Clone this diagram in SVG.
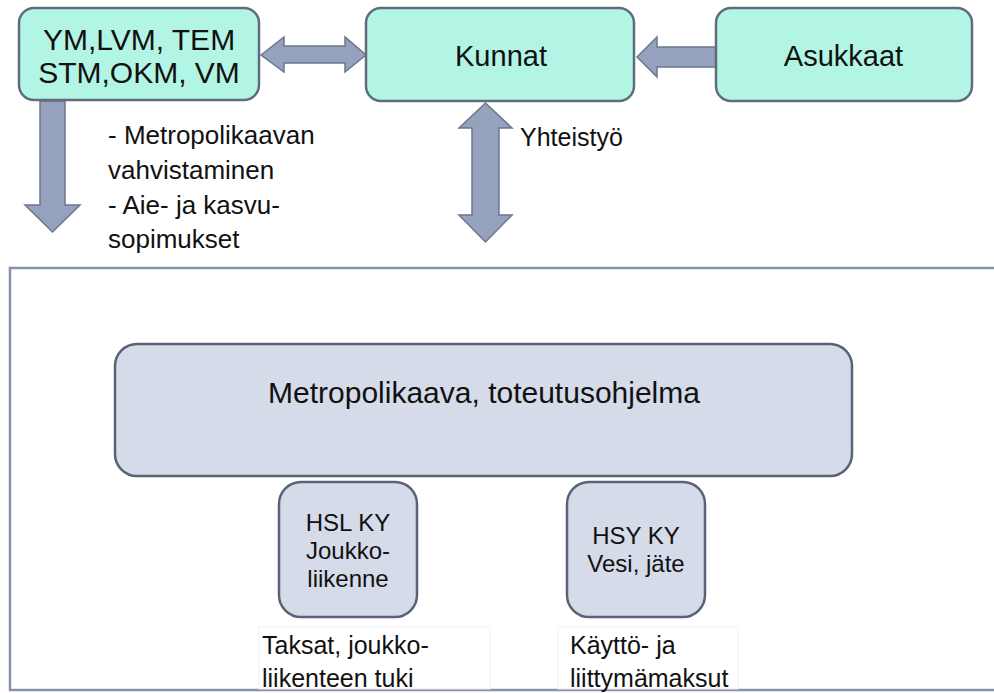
<svg xmlns="http://www.w3.org/2000/svg" width="994" height="693" viewBox="0 0 994 693">
<style>
text{font-family:"Liberation Sans",Arial,sans-serif;fill:#111}
.mint{fill:#b3f5e5;stroke:#5f6c7c;stroke-width:2.5}
.lav{fill:#d5dbe8;stroke:#586377;stroke-width:2.5}
.arr{fill:#96a2bd;stroke:#6b778c;stroke-width:1.5;stroke-linejoin:miter}
.frame{fill:#fff;stroke:#8592aa;stroke-width:2.5}
.tbox{fill:#fff;stroke:#efefef;stroke-width:1}
</style>
<rect width="994" height="693" fill="#fff"/>
<rect class="frame" x="10" y="268" width="1000" height="422"/>
<g id="connectors">
<path class="arr" d="M261,55 L284,37 L284,46 L345,46 L345,37 L366,55 L345,72 L345,63 L284,63 L284,72 Z"/>
<path class="arr" d="M637,57 L657,37 L657,47 L716,47 L716,67 L657,67 L657,77 Z"/>
<path class="arr" d="M40,101 L65,101 L65,205 L80,205 L52.5,232 L25,205 L40,205 Z"/>
<path class="arr" d="M485.5,103 L512,128 L499,128 L499,215 L512,215 L485.5,242 L459,215 L472,215 L472,128 L459,128 Z"/>
</g>
<g id="ministries">
<rect class="mint" x="19" y="8" width="240" height="92" rx="15"/>
<text x="139" y="50" font-size="30" text-anchor="middle">YM,LVM, TEM</text>
<text x="139" y="83" font-size="30" text-anchor="middle">STM,OKM, VM</text>
</g>
<g id="kunnat">
<rect class="mint" x="366" y="8" width="268" height="93" rx="15"/>
<text x="501" y="66" font-size="29" text-anchor="middle">Kunnat</text>
</g>
<g id="asukkaat">
<rect class="mint" x="716" y="8" width="256" height="93" rx="15"/>
<text x="843.5" y="66" font-size="29" text-anchor="middle">Asukkaat</text>
</g>
<g id="label-ministries">
<text x="108" y="144" font-size="26">- Metropolikaavan</text>
<text x="108" y="179" font-size="26">vahvistaminen</text>
<text x="108" y="214" font-size="26">- Aie- ja kasvu-</text>
<text x="108" y="248" font-size="26">sopimukset</text>
</g>
<g id="label-yhteistyo">
<text x="520" y="146" font-size="25">Yhteistyö</text>
</g>
<g id="metropolikaava">
<rect class="lav" x="115" y="344" width="737" height="132" rx="22"/>
<text x="484" y="403" font-size="30" text-anchor="middle">Metropolikaava, toteutusohjelma</text>
</g>
<g id="hsl">
<rect class="lav" x="279" y="482" width="138" height="135" rx="22"/>
<text x="348" y="531" font-size="24" text-anchor="middle">HSL KY</text>
<text x="348" y="559" font-size="24" text-anchor="middle">Joukko-</text>
<text x="348" y="587" font-size="24" text-anchor="middle">liikenne</text>
</g>
<g id="hsy">
<rect class="lav" x="567" y="482" width="138" height="135" rx="22"/>
<text x="636" y="544" font-size="24" text-anchor="middle">HSY KY</text>
<text x="636" y="572" font-size="24" text-anchor="middle">Vesi, jäte</text>
</g>
<g id="label-hsl">
<rect class="tbox" x="259" y="627" width="231" height="62"/>
<text x="262" y="654" font-size="25">Taksat, joukko-</text>
<text x="262" y="687" font-size="25">liikenteen tuki</text>
</g>
<g id="label-hsy">
<rect class="tbox" x="558" y="627" width="180" height="62"/>
<text x="570" y="654" font-size="25">Käyttö- ja</text>
<text x="570" y="687" font-size="25">liittymämaksut</text>
</g>
</svg>
